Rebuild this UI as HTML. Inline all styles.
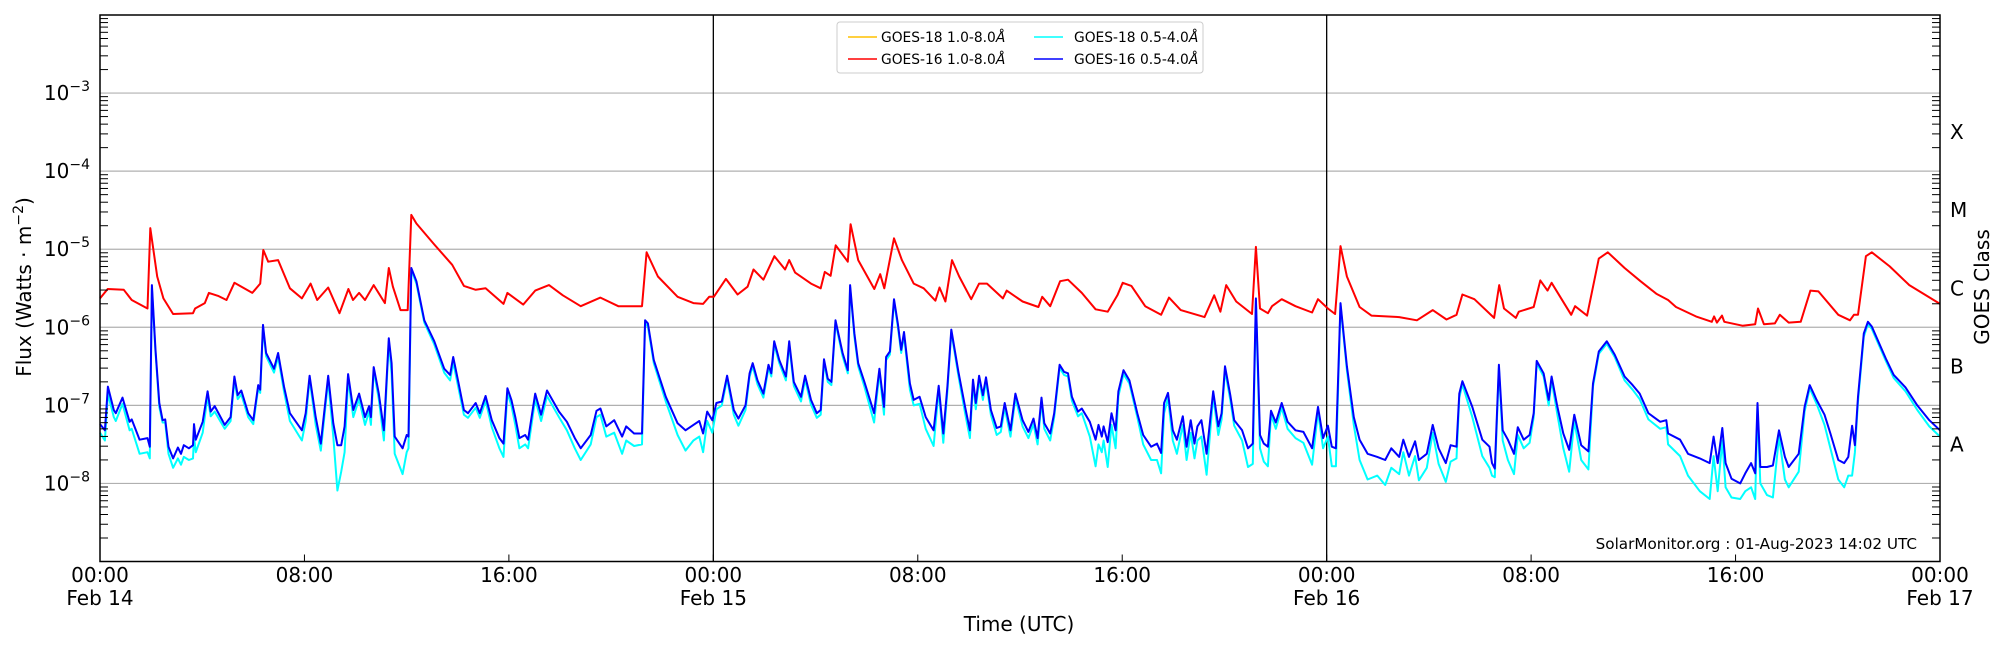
<!DOCTYPE html>
<html><head><meta charset="utf-8"><style>
html,body{margin:0;padding:0;background:#fff;}
svg{display:block;font-family:"DejaVu Sans","Liberation Sans",sans-serif;}
</style></head><body>
<svg id="chart" width="2000" height="650" viewBox="0 0 2000 650" xmlns="http://www.w3.org/2000/svg">
<rect width="2000" height="650" fill="#fff"/>
<g id="grid"></g>
<g id="series"></g>
<g id="axes"></g>
<text x="24" y="287" font-size="20" text-anchor="middle" transform="rotate(-90 24 287)" dy="7">Flux (Watts · m<tspan dy="-8" font-size="14">−2</tspan><tspan dy="8">)</tspan></text>
<text x="1019" y="631" font-size="20" text-anchor="middle">Time (UTC)</text>
<text x="1982" y="287" font-size="20" text-anchor="middle" transform="rotate(-90 1982 287)" dy="7">GOES Class</text>
<text x="1917" y="549" font-size="15.2" text-anchor="end">SolarMonitor.org : 01-Aug-2023 14:02 UTC</text>
<g>
<rect x="837" y="22" width="366" height="51" rx="3" fill="#fff" stroke="#ccc" stroke-width="1"/>
<g><line x1="848" y1="37" x2="877" y2="37" stroke="#ffc000" stroke-width="1.5"/><text x="881" y="42" font-size="13.8">GOES-18 1.0-8.0<tspan font-style="italic">Å</tspan></text></g>
<g><line x1="848" y1="59" x2="877" y2="59" stroke="#ff0000" stroke-width="1.5"/><text x="881" y="64" font-size="13.8">GOES-16 1.0-8.0<tspan font-style="italic">Å</tspan></text></g>
<g><line x1="1034" y1="37" x2="1063" y2="37" stroke="#00ffff" stroke-width="1.5"/><text x="1074" y="42" font-size="13.8">GOES-18 0.5-4.0<tspan font-style="italic">Å</tspan></text></g>
<g><line x1="1034" y1="59" x2="1063" y2="59" stroke="#0000ff" stroke-width="1.5"/><text x="1074" y="64" font-size="13.8">GOES-16 0.5-4.0<tspan font-style="italic">Å</tspan></text></g>
</g>
</svg>
<script>
// ---- data (hours since Feb 14 00:00 UTC, log10 flux W/m^2) ----
const redT=[0,0.3,0.93,1.24,1.86,1.97,2.24,2.48,2.86,3.64,3.72,4.1,4.26,4.64,4.95,5.26,5.96,6.27,6.39,6.58,6.97,7.43,7.9,8.24,8.5,8.93,9.37,9.72,9.9,10.14,10.37,10.71,11.15,11.3,11.46,11.76,12.04,12.18,12.38,13.08,13.78,14.24,14.7,15.09,15.79,15.94,16.56,17.03,17.57,18.11,18.81,19.58,20.28,21.21,21.39,21.83,22.6,23.22,23.6,23.84,24.02,24.49,24.95,25.34,25.57,25.96,26.39,26.81,26.97,27.2,27.82,28.2,28.36,28.59,28.79,29.26,29.37,29.67,30.3,30.53,30.69,31.07,31.38,31.84,32.23,32.69,32.85,33.08,33.34,33.62,34.09,34.4,34.71,35.33,35.48,36.1,36.72,36.87,37.18,37.57,37.88,38.42,38.96,39.43,39.81,40.02,40.36,40.9,41.52,41.83,42.29,43.22,43.6,43.84,44.07,44.46,45.08,45.23,45.39,45.7,45.86,46.24,46.78,47.43,47.66,48.05,48.33,48.54,48.79,49.29,49.75,50.84,51.53,52.15,52.69,53.08,53.31,53.78,54.55,54.75,54.94,55.4,55.52,56.1,56.36,56.64,56.8,57.57,57.72,58.19,58.65,59.0,59.66,60.28,60.9,61.36,61.67,62.45,63.07,63.16,63.27,63.47,63.56,64.27,64.77,64.88,65.11,65.54,65.73,66.08,66.55,66.93,67.24,68.02,68.48,68.63,68.79,69.1,69.33,70.03,70.8,72.0];
const redLog=[-5.63,-5.51,-5.52,-5.65,-5.76,-4.73,-5.35,-5.63,-5.83,-5.82,-5.76,-5.69,-5.56,-5.60,-5.65,-5.43,-5.56,-5.44,-5.01,-5.16,-5.14,-5.50,-5.63,-5.44,-5.65,-5.49,-5.82,-5.51,-5.65,-5.56,-5.65,-5.46,-5.69,-5.24,-5.48,-5.78,-5.78,-4.56,-4.67,-4.94,-5.20,-5.47,-5.52,-5.50,-5.70,-5.56,-5.71,-5.53,-5.46,-5.59,-5.73,-5.62,-5.73,-5.73,-5.04,-5.35,-5.61,-5.69,-5.70,-5.61,-5.61,-5.38,-5.58,-5.48,-5.26,-5.39,-5.09,-5.26,-5.14,-5.30,-5.44,-5.50,-5.29,-5.34,-4.95,-5.16,-4.68,-5.14,-5.51,-5.32,-5.50,-4.86,-5.14,-5.44,-5.50,-5.66,-5.49,-5.67,-5.14,-5.35,-5.64,-5.44,-5.44,-5.63,-5.53,-5.67,-5.74,-5.61,-5.73,-5.41,-5.39,-5.56,-5.77,-5.80,-5.59,-5.43,-5.47,-5.73,-5.84,-5.62,-5.78,-5.87,-5.59,-5.80,-5.46,-5.67,-5.83,-4.97,-5.76,-5.82,-5.73,-5.64,-5.73,-5.81,-5.64,-5.76,-5.83,-4.96,-5.35,-5.74,-5.85,-5.87,-5.91,-5.78,-5.90,-5.84,-5.58,-5.64,-5.88,-5.46,-5.76,-5.88,-5.80,-5.74,-5.40,-5.53,-5.43,-5.84,-5.73,-5.85,-5.12,-5.04,-5.24,-5.41,-5.57,-5.65,-5.74,-5.86,-5.93,-5.86,-5.94,-5.85,-5.93,-5.98,-5.96,-5.76,-5.96,-5.95,-5.84,-5.94,-5.93,-5.53,-5.54,-5.84,-5.91,-5.84,-5.84,-5.09,-5.04,-5.22,-5.46,-5.70];
const blueT=[0,0.19,0.31,0.54,0.62,0.88,1.16,1.24,1.55,1.86,1.95,2.03,2.17,2.32,2.45,2.55,2.68,2.86,3.05,3.17,3.28,3.48,3.64,3.68,3.75,4.02,4.21,4.33,4.49,4.88,5.11,5.26,5.39,5.53,5.8,6.0,6.19,6.27,6.38,6.5,6.81,6.97,7.2,7.43,7.9,8.05,8.2,8.44,8.64,8.93,9.13,9.29,9.44,9.57,9.71,9.91,10.14,10.37,10.53,10.6,10.71,10.91,11.11,11.3,11.41,11.53,11.84,12.0,12.07,12.18,12.38,12.69,13.08,13.47,13.7,13.82,14.01,14.24,14.4,14.7,14.86,15.09,15.33,15.63,15.79,15.94,16.1,16.25,16.41,16.64,16.75,17.03,17.26,17.49,17.96,18.27,18.58,18.81,19.2,19.43,19.58,19.81,20.12,20.43,20.59,20.9,21.21,21.33,21.44,21.67,22.14,22.6,22.91,23.22,23.45,23.6,23.76,23.96,24.12,24.33,24.54,24.8,24.98,25.26,25.42,25.54,25.73,25.96,26.16,26.27,26.38,26.58,26.84,26.97,27.15,27.43,27.59,27.82,28.05,28.2,28.33,28.48,28.62,28.78,29.06,29.26,29.35,29.52,29.67,29.91,30.29,30.5,30.68,30.76,30.91,31.07,31.22,31.35,31.46,31.69,31.84,32.07,32.31,32.62,32.82,33.0,33.16,33.31,33.59,33.85,34.04,34.16,34.27,34.4,34.55,34.67,34.86,35.09,35.25,35.4,35.63,35.82,36.1,36.33,36.53,36.69,36.84,36.95,37.18,37.34,37.55,37.72,37.88,38.03,38.27,38.42,38.73,38.96,39.07,39.2,39.27,39.43,39.58,39.74,39.85,40.05,40.28,40.59,40.82,41.13,41.36,41.52,41.64,41.79,41.98,42.14,42.37,42.52,42.68,42.83,42.94,43.1,43.3,43.56,43.76,43.89,44.02,44.23,44.38,44.69,44.92,45.11,45.23,45.39,45.54,45.7,45.82,46.01,46.24,46.47,46.78,47.09,47.43,47.66,47.86,48.05,48.2,48.36,48.54,48.79,49.06,49.29,49.6,49.98,50.29,50.53,50.84,51.0,51.22,51.46,51.61,51.92,52.15,52.38,52.66,52.85,53.08,53.19,53.31,53.7,54.09,54.37,54.47,54.58,54.74,54.89,55.09,55.33,55.48,55.71,55.94,56.1,56.22,56.49,56.69,56.8,57.03,57.26,57.49,57.69,57.96,58.24,58.42,58.65,58.96,59.27,59.66,59.97,60.25,60.59,61.05,61.29,61.36,61.83,62.14,62.6,62.99,63.14,63.3,63.48,63.61,63.84,64.18,64.38,64.61,64.77,64.86,64.97,65.23,65.46,65.7,65.93,66.08,66.47,66.7,66.9,67.17,67.48,67.71,68.02,68.25,68.41,68.56,68.67,68.79,69.02,69.18,69.33,69.88,70.19,70.65,71.11,71.58,72.0];
const blueLog=[-7.24,-7.32,-6.76,-7.06,-7.10,-6.90,-7.21,-7.18,-7.44,-7.42,-7.53,-5.46,-6.29,-6.97,-7.19,-7.18,-7.53,-7.68,-7.54,-7.62,-7.51,-7.55,-7.51,-7.24,-7.44,-7.21,-6.82,-7.08,-7.01,-7.25,-7.15,-6.63,-6.87,-6.81,-7.10,-7.19,-6.74,-6.80,-5.97,-6.33,-6.53,-6.33,-6.76,-7.10,-7.32,-7.10,-6.62,-7.15,-7.49,-6.62,-7.23,-7.51,-7.51,-7.27,-6.60,-7.06,-6.85,-7.15,-7.01,-7.15,-6.51,-6.85,-7.32,-6.14,-6.46,-7.40,-7.55,-7.38,-7.40,-5.24,-5.41,-5.91,-6.18,-6.53,-6.61,-6.38,-6.68,-7.06,-7.10,-6.97,-7.10,-6.88,-7.19,-7.42,-7.49,-6.78,-6.93,-7.15,-7.42,-7.38,-7.44,-6.85,-7.12,-6.81,-7.08,-7.21,-7.42,-7.55,-7.38,-7.07,-7.04,-7.27,-7.19,-7.40,-7.27,-7.36,-7.36,-5.91,-5.95,-6.42,-6.89,-7.23,-7.32,-7.25,-7.20,-7.36,-7.08,-7.19,-6.97,-6.95,-6.62,-7.06,-7.17,-7.00,-6.59,-6.46,-6.68,-6.85,-6.48,-6.59,-6.18,-6.42,-6.63,-6.18,-6.70,-6.89,-6.62,-6.93,-7.10,-7.06,-6.41,-6.66,-6.70,-5.91,-6.33,-6.55,-5.46,-6.08,-6.46,-6.70,-7.10,-6.53,-7.02,-6.38,-6.31,-5.64,-5.95,-6.29,-6.06,-6.72,-6.93,-6.89,-7.15,-7.32,-6.75,-7.36,-6.76,-6.03,-6.57,-7.02,-7.32,-6.67,-6.97,-6.62,-6.87,-6.64,-7.06,-7.29,-7.27,-6.97,-7.32,-6.85,-7.19,-7.34,-7.17,-7.42,-6.90,-7.23,-7.36,-7.10,-6.48,-6.57,-6.59,-6.89,-7.08,-7.04,-7.21,-7.44,-7.25,-7.40,-7.27,-7.47,-7.10,-7.32,-6.82,-6.55,-6.68,-7.10,-7.38,-7.53,-7.49,-7.61,-6.97,-6.84,-7.32,-7.44,-7.14,-7.53,-7.19,-7.49,-7.27,-7.19,-7.62,-6.82,-7.27,-7.10,-6.50,-6.87,-7.19,-7.32,-7.55,-7.49,-5.63,-7.38,-7.49,-7.53,-7.07,-7.22,-6.97,-7.21,-7.32,-7.34,-7.55,-7.02,-7.42,-7.26,-7.53,-7.55,-5.69,-6.50,-7.15,-7.44,-7.62,-7.66,-7.70,-7.55,-7.66,-7.44,-7.66,-7.46,-7.70,-7.62,-7.25,-7.55,-7.74,-7.51,-7.53,-6.85,-6.69,-7.02,-7.44,-7.53,-7.74,-7.81,-6.48,-7.32,-7.44,-7.62,-7.28,-7.44,-7.38,-7.10,-6.43,-6.59,-6.93,-6.63,-7.02,-7.36,-7.57,-7.12,-7.51,-7.59,-6.72,-6.31,-6.18,-6.35,-6.63,-6.74,-6.85,-7.10,-7.21,-7.19,-7.36,-7.44,-7.62,-7.68,-7.74,-7.40,-7.74,-7.29,-7.74,-7.94,-8.00,-7.87,-7.74,-7.87,-6.97,-7.79,-7.79,-7.77,-7.32,-7.66,-7.79,-7.62,-7.02,-6.74,-6.93,-7.12,-7.36,-7.70,-7.74,-7.66,-7.26,-7.51,-6.89,-6.08,-5.93,-5.99,-6.40,-6.61,-6.77,-7.00,-7.19,-7.32];
const cyanLog=[-7.35,-7.45,-6.85,-7.15,-7.20,-6.98,-7.32,-7.30,-7.62,-7.60,-7.68,-5.50,-6.32,-7.02,-7.22,-7.22,-7.62,-7.80,-7.68,-7.76,-7.66,-7.70,-7.68,-7.40,-7.60,-7.35,-6.88,-7.14,-7.08,-7.30,-7.20,-6.68,-6.92,-6.86,-7.15,-7.24,-6.78,-6.84,-6.00,-6.37,-6.58,-6.38,-6.82,-7.20,-7.45,-7.20,-6.66,-7.25,-7.58,-6.68,-7.40,-8.09,-7.85,-7.60,-6.66,-7.15,-6.92,-7.25,-7.08,-7.25,-6.55,-6.92,-7.45,-6.18,-6.60,-7.62,-7.88,-7.60,-7.55,-5.26,-5.44,-5.94,-6.22,-6.58,-6.68,-6.45,-6.75,-7.12,-7.16,-7.03,-7.16,-6.94,-7.28,-7.55,-7.66,-6.84,-7.00,-7.25,-7.55,-7.50,-7.55,-6.92,-7.20,-6.88,-7.15,-7.32,-7.55,-7.70,-7.50,-7.15,-7.12,-7.40,-7.35,-7.62,-7.45,-7.52,-7.50,-5.95,-5.99,-6.46,-6.95,-7.38,-7.58,-7.45,-7.40,-7.60,-7.20,-7.35,-7.05,-7.00,-6.66,-7.12,-7.26,-7.06,-6.63,-6.50,-6.73,-6.90,-6.52,-6.63,-6.22,-6.46,-6.68,-6.22,-6.75,-6.95,-6.67,-6.99,-7.16,-7.12,-6.45,-6.70,-6.74,-5.94,-6.37,-6.59,-5.49,-6.12,-6.50,-6.76,-7.22,-6.58,-7.12,-6.42,-6.35,-5.67,-5.99,-6.33,-6.10,-6.80,-7.00,-6.98,-7.30,-7.52,-6.80,-7.48,-6.82,-6.06,-6.62,-7.10,-7.42,-6.72,-7.05,-6.67,-6.93,-6.69,-7.12,-7.38,-7.34,-7.03,-7.40,-6.90,-7.27,-7.42,-7.24,-7.50,-6.95,-7.30,-7.45,-7.15,-6.52,-6.61,-6.63,-6.94,-7.14,-7.10,-7.40,-7.78,-7.50,-7.60,-7.45,-7.79,-7.25,-7.55,-6.88,-6.60,-6.72,-7.15,-7.50,-7.70,-7.70,-7.87,-7.10,-6.90,-7.45,-7.62,-7.25,-7.70,-7.35,-7.68,-7.45,-7.40,-7.89,-6.88,-7.38,-7.18,-6.55,-6.93,-7.26,-7.45,-7.79,-7.75,-5.66,-7.55,-7.72,-7.78,-7.12,-7.30,-7.03,-7.30,-7.42,-7.48,-7.76,-7.08,-7.55,-7.40,-7.78,-7.78,-5.72,-6.55,-7.25,-7.70,-7.95,-7.90,-8.02,-7.80,-7.88,-7.60,-7.90,-7.65,-7.96,-7.80,-7.35,-7.75,-7.98,-7.72,-7.68,-6.90,-6.73,-7.15,-7.65,-7.80,-7.90,-7.92,-6.52,-7.45,-7.70,-7.88,-7.38,-7.55,-7.48,-7.15,-6.46,-6.63,-7.00,-6.68,-7.12,-7.55,-7.85,-7.20,-7.70,-7.82,-6.76,-6.34,-6.21,-6.38,-6.68,-6.80,-6.92,-7.18,-7.30,-7.28,-7.50,-7.65,-7.90,-8.10,-8.20,-7.65,-8.10,-7.45,-8.05,-8.18,-8.20,-8.10,-8.05,-8.20,-7.02,-8.00,-8.15,-8.18,-7.40,-7.95,-8.05,-7.85,-7.08,-6.78,-6.98,-7.25,-7.55,-7.95,-8.05,-7.90,-7.90,-7.60,-6.95,-6.12,-5.96,-6.02,-6.43,-6.65,-6.82,-7.06,-7.27,-7.40];
const xTickHours=[0,8,16,24,32,40,48,56,64,72];
const xTickLabels=["00:00","08:00","16:00","00:00","08:00","16:00","00:00","08:00","16:00","00:00"];
const xDateLabels=["Feb 14","","","Feb 15","","","Feb 16","","","Feb 17"];
const yDecades=[-8,-7,-6,-5,-4,-3];
const classNames=["A","B","C","M","X"];
const classCenters=[-7.5,-6.5,-5.5,-4.5,-3.5];

// ---- axis functions ----
const PL=100,PR=1940,PT=15,PB=561.5,LMAX=-2,LMIN=-9,HMAX=72;
const xs=h=>PL+h/HMAX*(PR-PL);
const ys=l=>PT+(LMAX-l)/(LMAX-LMIN)*(PB-PT);
const NS="http://www.w3.org/2000/svg";
function mk(tag,attrs,parent){const e=document.createElementNS(NS,tag);for(const k in attrs)e.setAttribute(k,attrs[k]);parent.appendChild(e);return e;}
const grid=document.getElementById('grid'),series=document.getElementById('series'),axes=document.getElementById('axes');

yDecades.forEach(d=>{
  const g=mk('line',{x1:PL,x2:PR,y1:ys(d),y2:ys(d),stroke:'#b0b0b0','stroke-width':1.2},grid);
  
  
  const t=mk('text',{x:90,y:ys(d)+7,'font-size':20,'text-anchor':'end'},axes);
  
  
  t.textContent='10';
  const sp=mk('tspan',{dy:-9,'font-size':14},t);sp.textContent='−'+(-d);
});
for(let d=-9;d<-2;d++){for(let m=2;m<=9;m++){const l=d+Math.log10(m);if(l<=LMIN||l>=LMAX)continue;
  mk('line',{x1:PL,x2:PL+8,y1:ys(l),y2:ys(l),stroke:'#000','stroke-width':1},axes);
  mk('line',{x1:PR-8,x2:PR,y1:ys(l),y2:ys(l),stroke:'#000','stroke-width':1},axes);}}
[24,48].forEach(h=>{const v=mk('line',{x1:xs(h),x2:xs(h),y1:PT,y2:PB,stroke:'#000','stroke-width':1.3},grid);
  
  });

function drawLine(T,V,color,name,w){
  let d='';T.forEach((h,i)=>{d+=(i?'L':'M')+xs(h).toFixed(1)+' '+ys(V[i]).toFixed(1);});
  const p=mk('path',{d:d,fill:'none',stroke:color,'stroke-width':w,'stroke-linejoin':'round'},series);
  
  
}
drawLine(blueT,cyanLog,'#00ffff','goes18-short-line',2);
drawLine(blueT,blueLog,'#0000ff','goes16-short-line',2);
drawLine(redT,redLog,'#ff0000','goes16-long-line',2);

const fr=mk('rect',{x:PL,y:PT,width:PR-PL,height:PB-PT,fill:'none',stroke:'#000','stroke-width':1.5},axes);


xTickHours.forEach((h,i)=>{
  mk('line',{x1:xs(h),x2:xs(h),y1:PB,y2:PB-7,stroke:'#000','stroke-width':1},axes);
  const t=mk('text',{x:xs(h),y:582,'font-size':20,'text-anchor':'middle'},axes);
  
  
  t.textContent=xTickLabels[i];
  if(xDateLabels[i]){const t2=mk('text',{x:xs(h),y:605,'font-size':20,'text-anchor':'middle'},axes);
    
    
    t2.textContent=xDateLabels[i];}
});
classNames.forEach((c,i)=>{
  const t=mk('text',{x:1950,y:ys(classCenters[i])+7,'font-size':20},axes);
  
  
  t.textContent=c;
});
</script>
</body></html>
